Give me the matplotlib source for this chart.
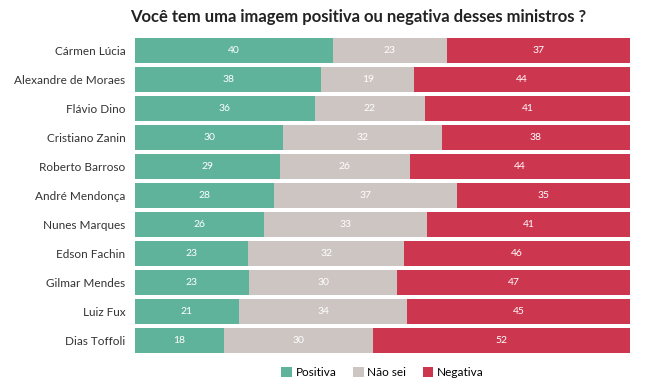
import numpy as np
import matplotlib.pyplot as plt

plt.rcParams['font.family'] = ['Lato', 'DejaVu Sans']

ministros = ['Cármen Lúcia', 'Alexandre de Moraes', 'Flávio Dino', 'Cristiano Zanin',
             'Roberto Barroso', 'André Mendonça', 'Nunes Marques', 'Edson Fachin',
             'Gilmar Mendes', 'Luiz Fux', 'Dias Toffoli']
positiva = [40, 38, 36, 30, 29, 28, 26, 23, 23, 21, 18]
nao_sei = [23, 19, 22, 32, 26, 37, 33, 32, 30, 34, 30]
negativa = [37, 44, 41, 38, 44, 35, 41, 46, 47, 45, 52]

cores = {'Positiva': '#5fb39a', 'Não sei': '#cdc5c1', 'Negativa': '#cc364e'}

fig = plt.figure(figsize=(6.46, 3.86), dpi=100)
ax = fig.add_axes([0.209, 0.085, 0.766, 0.817])

y = np.arange(len(ministros))
series = [('Positiva', np.array(positiva, float)),
          ('Não sei', np.array(nao_sei, float)),
          ('Negativa', np.array(negativa, float))]
total = sum(s[1] for s in series)

left = np.zeros(len(ministros))
for nome, vals in series:
    w = vals / total * 100
    ax.barh(y, w, left=left, height=0.86, color=cores[nome], label=nome)
    for yi, li, wi, v in zip(y, left, w, vals):
        ax.text(li + wi / 2, yi, f'{int(v)}', ha='center', va='center',
                color='white', fontsize=7.5)
    left += w

ax.set_xlim(0, 100)
ax.set_ylim(len(ministros) - 1 + 0.43, -0.43)
ax.set_yticks(y)
ax.set_yticklabels(ministros, fontsize=8.5, color='#333333')
ax.tick_params(axis='y', length=0, pad=7)
ax.set_xticks([])
for s in ax.spines.values():
    s.set_visible(False)

fig.text(0.555, 0.955, 'Você tem uma imagem positiva ou negativa desses ministros ?',
         ha='center', va='center', fontsize=12, fontweight='bold', color='#222222')

ax.legend(loc='upper center', bbox_to_anchor=(0.5, -0.03), ncol=3, frameon=False,
          fontsize=8.5, handlelength=0.9, handleheight=0.9, handletextpad=0.3,
          columnspacing=1.4, borderaxespad=0)

fig.savefig('out.png', dpi=100)
